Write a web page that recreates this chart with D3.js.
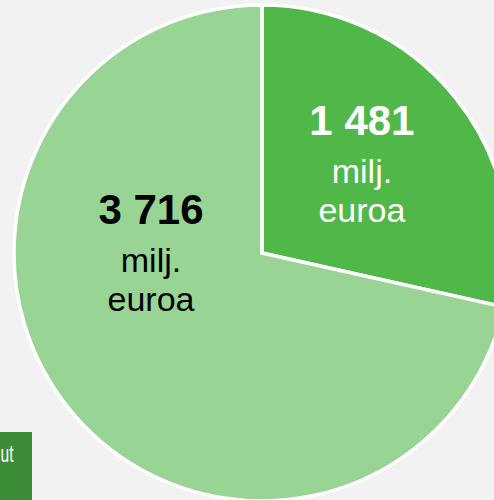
<!DOCTYPE html>
<html>
<head>
<meta charset="utf-8">
<script src="https://cdn.jsdelivr.net/npm/d3@7"></script>
<style>
  html, body { margin: 0; padding: 0; background: #f2f2f2; overflow: hidden; }
  svg { display: block; font-family: Arial, "Liberation Sans", sans-serif; }
</style>
</head>
<body>
<div id="chart"></div>
<script>
// slice values (milj. euroa), first slice starts at 12 o'clock
const categories = ['a', 'b'];
const values = [1481, 3716];
const valueLabels = ['1 481', '3 716'];
const unitLines = ['milj.', 'euroa'];
const sliceColors = ['#50b848', '#98d594'];
const textColors = ['#ffffff', '#000000'];
const legendLabel = 'ut';

const width = 494, height = 500;
const cx = 262, cy = 253, radius = 248;

const svg = d3.select('#chart').append('svg')
  .attr('width', width)
  .attr('height', height);

svg.append('rect')
  .attr('width', width)
  .attr('height', height)
  .attr('fill', '#f2f2f2');

const pie = d3.pie().sort(null).value(d => d);
const arcs = pie(values);

const arc = d3.arc().innerRadius(0).outerRadius(radius);

const g = svg.append('g')
  .attr('transform', `translate(${cx},${cy})`);

g.selectAll('.slice')
  .data(arcs)
  .join('path')
  .attr('class', 'slice')
  .attr('d', arc)
  .attr('fill', (d, i) => sliceColors[i])
  .attr('stroke', '#ffffff')
  .attr('stroke-width', 3.5)
  .attr('stroke-linejoin', 'miter');

// label placement: polar (angle in deg from top, distance from centre)
const labelPos = [
  { angle: 48.7, dist: 133 },
  { angle: 270.5, dist: 111 }
];

const labels = g.selectAll('.label')
  .data(arcs)
  .join('g')
  .attr('class', 'label')
  .attr('transform', (d, i) => {
    const a = labelPos[i].angle * Math.PI / 180;
    const r = labelPos[i].dist;
    return `translate(${r * Math.sin(a)},${-r * Math.cos(a) + (i === 1 ? 2 : 0)})`;
  });

labels.append('text')
  .attr('text-anchor', 'middle')
  .attr('y', -30)
  .attr('font-size', 42)
  .attr('font-weight', 'bold')
  .attr('fill', (d, i) => textColors[i])
  .text((d, i) => valueLabels[i]);

labels.each(function(d, i) {
  const sel = d3.select(this);
  unitLines.forEach((t, j) => {
    sel.append('text')
      .attr('text-anchor', 'middle')
      .attr('y', 18 + j * 39)
      .attr('font-size', 34)
      .attr('fill', textColors[i])
      .text(t);
  });
});

// legend piece, cut off at the bottom-left
svg.append('rect')
  .attr('x', 0)
  .attr('y', 432)
  .attr('width', 32)
  .attr('height', 68)
  .attr('fill', '#3c8b36');

svg.append('text')
  .attr('x', 0.5)
  .attr('y', 462)
  .attr('font-size', 24)
  .attr('textLength', 13)
  .attr('lengthAdjust', 'spacingAndGlyphs')
  .attr('fill', '#ffffff')
  .text(legendLabel);
</script>
</body>
</html>
